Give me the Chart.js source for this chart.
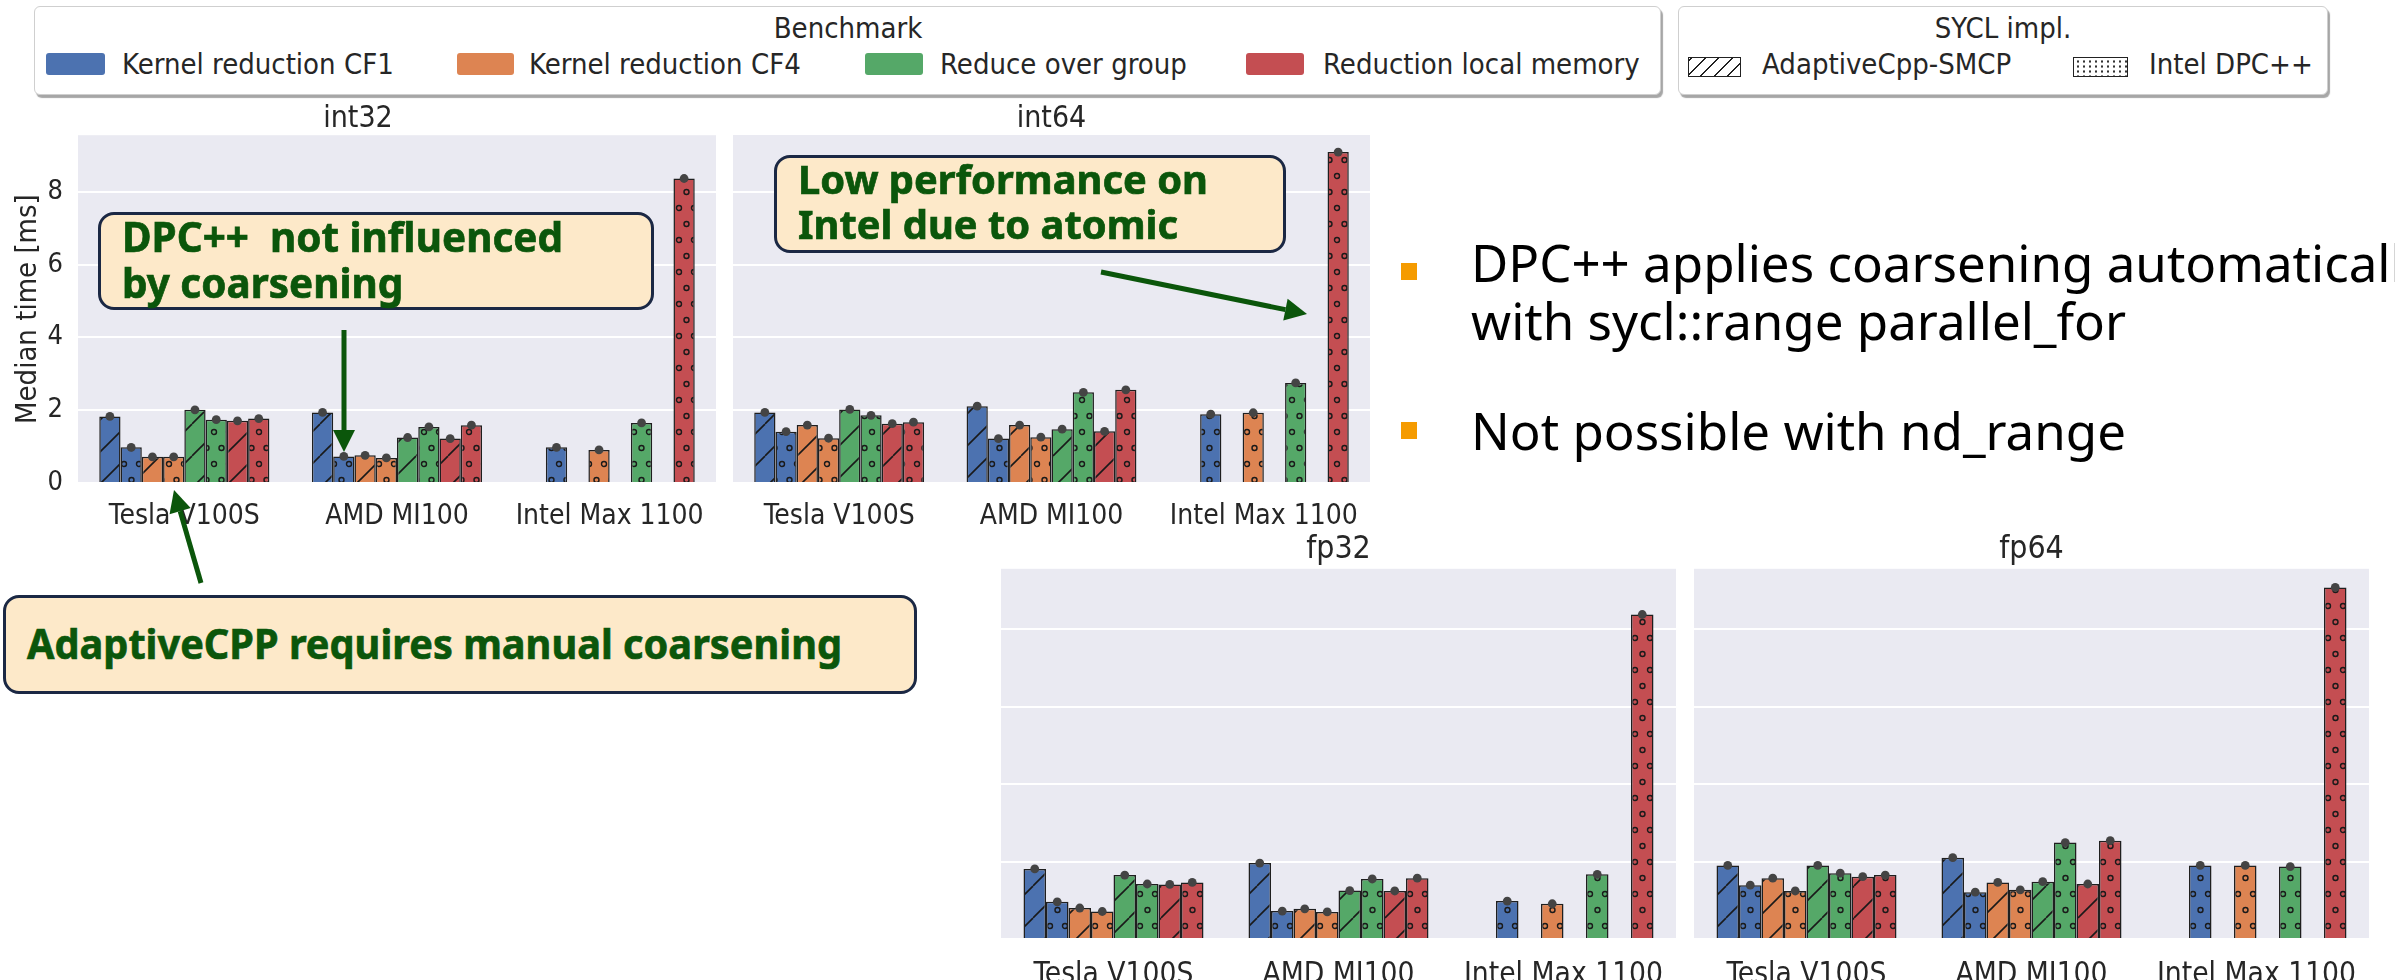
<!DOCTYPE html>
<html>
<head>
<meta charset="utf-8">
<script src="https://cdn.jsdelivr.net/npm/chart.js@4.4.1/dist/chart.umd.min.js"></script>
<style>
  body { margin: 0; width: 2395px; height: 980px; overflow: hidden; background: #fff; position: relative;
         font-family: 'DejaVu Sans Condensed', 'DejaVu Sans', sans-serif; color: #262626; }
  canvas.panel { position: absolute; }
  .legend { position: absolute; background: #fff; border: 1.5px solid #cfcfcf; border-radius: 6px;
            box-shadow: 2px 3px 1px rgba(0,0,0,0.35); box-sizing: border-box; }
  .lg { position: absolute; font-size: 29px; line-height: 30px; white-space: nowrap; }
  .lgt { position: absolute; font-size: 29px; line-height: 30px; white-space: nowrap; transform: translateX(-50%); }
  .sw { position: absolute; border-radius: 3px; box-sizing: border-box; }
  .hatch { background: repeating-linear-gradient(-45deg, #fff 0 8px, #222 8px 9.5px); border: 1.2px solid #222; border-radius: 0; }
  .dotted { background: radial-gradient(circle, #333 0.9px, transparent 1.4px) 1px 1px / 6px 5px #fff; border: 1.2px solid #222; border-radius: 0; }
  .note { position: absolute; background: #fde9c9; border: 3px solid #1b2844; border-radius: 16px; box-sizing: border-box; z-index: 5; }
  .note .txt { position: absolute; display: inline-block; font-family: 'Noto Sans', sans-serif; font-weight: 700;
               color: #0b560b; white-space: nowrap; -webkit-text-stroke: 0.7px #0b560b; }
  .bul { position: absolute; width: 16px; height: 17px; background: #f59b00; }
  .btxt { position: absolute; font-family: 'Noto Sans', sans-serif; font-size: 51px; line-height: 58px;
          color: #000; white-space: nowrap; }
  svg { position: absolute; left: 0; top: 0; z-index: 6; pointer-events: none; }
</style>
</head>
<body>

<!-- legends -->
<div class="legend" style="left:34px;top:6px;width:1627px;height:89px"></div>
<div class="lgt" style="left:848px;top:13px">Benchmark</div>
<div class="sw" style="left:46px;top:53px;width:59px;height:22px;background:#4c72b0"></div>
<div class="lg" style="left:122px;top:49px">Kernel reduction CF1</div>
<div class="sw" style="left:457px;top:53px;width:57px;height:22px;background:#dd8452"></div>
<div class="lg" style="left:529px;top:49px">Kernel reduction CF4</div>
<div class="sw" style="left:865px;top:53px;width:58px;height:22px;background:#55a868"></div>
<div class="lg" style="left:940px;top:49px">Reduce over group</div>
<div class="sw" style="left:1246px;top:53px;width:58px;height:22px;background:#c44e52"></div>
<div class="lg" style="left:1323px;top:49px">Reduction local memory</div>

<div class="legend" style="left:1678px;top:6px;width:650px;height:89px"></div>
<div class="lgt" style="left:2003px;top:13px">SYCL impl.</div>
<div class="sw hatch" style="left:1688px;top:57px;width:53px;height:20px"></div>
<div class="lg" style="left:1762px;top:49px">AdaptiveCpp-SMCP</div>
<div class="sw dotted" style="left:2073px;top:57px;width:55px;height:20px"></div>
<div class="lg" style="left:2149px;top:49px">Intel DPC++</div>

<!-- chart panels -->
<canvas class="panel" id="int32" width="716" height="429" style="left:0px;top:104px"></canvas>
<canvas class="panel" id="int64" width="637" height="429" style="left:733px;top:104px"></canvas>
<canvas class="panel" id="fp32" width="675" height="446" style="left:1001px;top:534px"></canvas>
<canvas class="panel" id="fp64" width="675" height="446" style="left:1694px;top:534px"></canvas>

<!-- call-outs -->
<div class="note" style="left:98px;top:212px;width:556px;height:98px">
  <div class="txt" id="n1" style="left:21px;top:-2px;font-size:41px;line-height:46px">DPC++&nbsp; not influenced<br>by coarsening</div>
</div>
<div class="note" style="left:774px;top:155px;width:512px;height:98px">
  <div class="txt" id="n2" style="left:21px;top:-2px;font-size:40px;line-height:45px">Low performance on<br>Intel due to atomic</div>
</div>
<div class="note" style="left:3px;top:595px;width:914px;height:99px">
  <div class="txt" id="n3" style="left:21px;top:21px;font-size:42px;line-height:48px">AdaptiveCPP requires manual coarsening</div>
</div>

<!-- bullet text -->
<div class="bul" style="left:1401px;top:263px"></div>
<div class="btxt" id="b1" style="left:1471px;top:233px">DPC++ applies coarsening automatically<br>with sycl::range parallel_for</div>
<div class="bul" style="left:1401px;top:422px"></div>
<div class="btxt" id="b2" style="left:1471px;top:401px">Not possible with nd_range</div>

<svg id="arrows" width="2395" height="980"></svg>

<script>
// ── categories ───────────────────────────────────────────────
const gpus = ['Tesla V100S', 'AMD MI100', 'Intel Max 1100'];
const benchmarks = ['Kernel reduction CF1', 'Kernel reduction CF4', 'Reduce over group', 'Reduction local memory'];
const impls = ['AdaptiveCpp-SMCP', 'Intel DPC++'];
const benchColors = ['#4c72b0', '#dd8452', '#55a868', '#c44e52'];
const yMax = 9.56;
const yStep = 2;

// ── median time [ms], one array per benchmark/impl, values per GPU ──
// int32
const int32Cf1Acpp = [1.83, 1.94, null];
const int32Cf1Dpc  = [0.98, 0.73, 0.98];
const int32Cf4Acpp = [0.72, 0.76, null];
const int32Cf4Dpc  = [0.72, 0.69, 0.91];
const int32RogAcpp = [2.01, 1.25, null];
const int32RogDpc  = [1.74, 1.54, 1.65];
const int32RlmAcpp = [1.71, 1.22, null];
const int32RlmDpc  = [1.77, 1.59, 8.37];
// int64
const int64Cf1Acpp = [1.94, 2.11, null];
const int64Cf1Dpc  = [1.41, 1.22, 1.89];
const int64Cf4Acpp = [1.59, 1.59, null];
const int64Cf4Dpc  = [1.23, 1.26, 1.93];
const int64RogAcpp = [2.02, 1.48, null];
const int64RogDpc  = [1.86, 2.49, 2.75];
const int64RlmAcpp = [1.63, 1.42, null];
const int64RlmDpc  = [1.67, 2.56, 9.09];
// fp32
const fp32Cf1Acpp = [1.81, 1.96, null];
const fp32Cf1Dpc  = [0.96, 0.72, 0.98];
const fp32Cf4Acpp = [0.80, 0.78, null];
const fp32Cf4Dpc  = [0.71, 0.70, 0.91];
const fp32RogAcpp = [1.65, 1.25, null];
const fp32RogDpc  = [1.42, 1.55, 1.67];
const fp32RlmAcpp = [1.41, 1.24, null];
const fp32RlmDpc  = [1.46, 1.57, 8.38];
// fp64
const fp64Cf1Acpp = [1.90, 2.10, null];
const fp64Cf1Dpc  = [1.39, 1.21, 1.90];
const fp64Cf4Acpp = [1.57, 1.46, null];
const fp64Cf4Dpc  = [1.24, 1.27, 1.90];
const fp64RogAcpp = [1.90, 1.48, null];
const fp64RogDpc  = [1.70, 2.49, 1.87];
const fp64RlmAcpp = [1.61, 1.42, null];
const fp64RlmDpc  = [1.65, 2.54, 9.08];

const FONT = "'DejaVu Sans Condensed', 'DejaVu Sans', sans-serif";

// ── fill patterns: '/' hatch for AdaptiveCpp, small rings for DPC++ ──
function hatchPattern(ctx, color) {
  const s = 32, c = document.createElement('canvas');
  c.width = c.height = s;
  const g = c.getContext('2d');
  g.fillStyle = color; g.fillRect(0, 0, s, s);
  g.strokeStyle = '#1a1a1a'; g.lineWidth = 1.6;
  for (const k of [-1, 0, 1]) {
    g.beginPath(); g.moveTo(k * s, s); g.lineTo(k * s + s, 0); g.stroke();
  }
  return ctx.createPattern(c, 'repeat');
}
function dotPattern(ctx, color) {
  const w = 15, h = 32, c = document.createElement('canvas');
  c.width = w; c.height = h;
  const g = c.getContext('2d');
  g.fillStyle = color; g.fillRect(0, 0, w, h);
  g.strokeStyle = '#1a1a1a'; g.lineWidth = 1.4;
  for (const [x, y] of [[4, 8], [11.5, 24]]) {
    g.beginPath(); g.arc(x, y, 2.5, 0, Math.PI * 2); g.stroke();
  }
  return ctx.createPattern(c, 'repeat');
}

// grey plot background like seaborn darkgrid
const panelBg = {
  id: 'panelBg',
  beforeDraw(chart) {
    const { ctx, chartArea: a } = chart;
    ctx.save(); ctx.fillStyle = '#eaeaf2';
    ctx.fillRect(a.left, a.top, a.right - a.left, a.bottom - a.top);
    ctx.restore();
  },
};
// tiny error bars at the bar tops
const errDots = {
  id: 'errDots',
  afterDatasetsDraw(chart) {
    const c = chart.ctx;
    c.save(); c.fillStyle = '#444';
    chart.data.datasets.forEach((ds, i) => {
      chart.getDatasetMeta(i).data.forEach((el, j) => {
        if (ds.data[j] == null) return;
        c.beginPath(); c.arc(el.x, el.y, 4.4, 0, Math.PI * 2); c.fill();
      });
    });
    c.restore();
  },
};

function makePanel(id, title, series, opt) {
  const ctx = document.getElementById(id).getContext('2d');
  const datasets = [];
  benchmarks.forEach((b, bi) => {
    impls.forEach((im, ii) => {
      const color = benchColors[bi];
      datasets.push({
        label: b + ' / ' + im,
        data: series[bi * 2 + ii],
        backgroundColor: ii === 0 ? hatchPattern(ctx, color) : dotPattern(ctx, color),
        borderColor: '#1f1f1f',
        borderWidth: 1.5,
        categoryPercentage: 0.8,
        barPercentage: 1.0,
      });
    });
  });
  const f = opt.fontScale;
  new Chart(ctx, {
    type: 'bar',
    data: { labels: gpus, datasets },
    options: {
      responsive: false,
      animation: false,
      devicePixelRatio: 1,
      layout: { padding: 0 },
      plugins: {
        legend: { display: false },
        tooltip: { enabled: false },
        title: {
          display: true, text: title, color: '#262626',
          font: { family: FONT, size: 30 * f, weight: 'normal', lineHeight: 1.0 },
          padding: { top: 0, bottom: opt.titleGap },
        },
      },
      scales: {
        x: {
          grid: { display: false },
          border: { display: false },
          ticks: { color: '#262626', padding: opt.xPad,
                   font: { family: FONT, size: 28 * f, lineHeight: 1.2 } },
          afterFit(s) { s.height = opt.xHeight; },
        },
        y: {
          min: 0, max: yMax,
          grid: { color: '#ffffff', lineWidth: 2, drawTicks: false },
          border: { display: false },
          ticks: { display: opt.showY, stepSize: yStep, includeBounds: false, padding: 15, color: '#262626',
                   font: { family: FONT, size: 27 * f } },
          title: { display: opt.showY, text: 'Median time [ms]', color: '#262626',
                   font: { family: FONT, size: 29 * f, lineHeight: 1.2 },
                   padding: { top: 11, bottom: 0 } },
          afterFit(s) { s.width = opt.yWidth; },
        },
      },
    },
    plugins: [panelBg, errDots],
  });
}

makePanel('int32', 'int32',
  [int32Cf1Acpp, int32Cf1Dpc, int32Cf4Acpp, int32Cf4Dpc, int32RogAcpp, int32RogDpc, int32RlmAcpp, int32RlmDpc],
  { fontScale: 1, titleGap: 1, xPad: 9, xHeight: 50, showY: true, yWidth: 78 });
makePanel('int64', 'int64',
  [int64Cf1Acpp, int64Cf1Dpc, int64Cf4Acpp, int64Cf4Dpc, int64RogAcpp, int64RogDpc, int64RlmAcpp, int64RlmDpc],
  { fontScale: 1, titleGap: 1, xPad: 9, xHeight: 50, showY: false, yWidth: 0 });
makePanel('fp32', 'fp32',
  [fp32Cf1Acpp, fp32Cf1Dpc, fp32Cf4Acpp, fp32Cf4Dpc, fp32RogAcpp, fp32RogDpc, fp32RlmAcpp, fp32RlmDpc],
  { fontScale: 1.06, titleGap: 3, xPad: 10, xHeight: 41, showY: false, yWidth: 0 });
makePanel('fp64', 'fp64',
  [fp64Cf1Acpp, fp64Cf1Dpc, fp64Cf4Acpp, fp64Cf4Dpc, fp64RogAcpp, fp64RogDpc, fp64RlmAcpp, fp64RlmDpc],
  { fontScale: 1.06, titleGap: 3, xPad: 10, xHeight: 41, showY: false, yWidth: 0 });

// ── squeeze call-out / bullet text to the slide's narrower font ──
function fitWidth(id, target) {
  const el = document.getElementById(id);
  const w = el.getBoundingClientRect().width;
  el.style.transformOrigin = '0 0';
  el.style.transform = 'scaleX(' + (target / w) + ')';
}
fitWidth('n1', 441);
fitWidth('n2', 410);
fitWidth('n3', 815);
// bullet block: first line runs off the slide edge just after "automaticall"
(function () {
  const b2 = document.getElementById('b2');
  const k = 655 / b2.getBoundingClientRect().width;
  for (const id of ['b1', 'b2']) {
    const el = document.getElementById(id);
    el.style.transformOrigin = '0 0';
    el.style.transform = 'scaleX(' + k + ')';
  }
})();

// ── arrows ──
function arrow(x1, y1, x2, y2) {
  const dx = x2 - x1, dy = y2 - y1, len = Math.hypot(dx, dy);
  const ux = dx / len, uy = dy / len, hl = 22, hw = 11;
  const bx = x2 - ux * hl, by = y2 - uy * hl;
  const svg = document.getElementById('arrows');
  svg.insertAdjacentHTML('beforeend',
    `<line x1="${x1}" y1="${y1}" x2="${bx}" y2="${by}" stroke="#0b560b" stroke-width="5"/>` +
    `<polygon fill="#0b560b" points="${x2},${y2} ${bx - uy * hw},${by + ux * hw} ${bx + uy * hw},${by - ux * hw}"/>`);
}
arrow(344, 330, 344, 452);
arrow(1101, 272, 1307, 314);
arrow(201, 583, 174, 490);
</script>
</body>
</html>
